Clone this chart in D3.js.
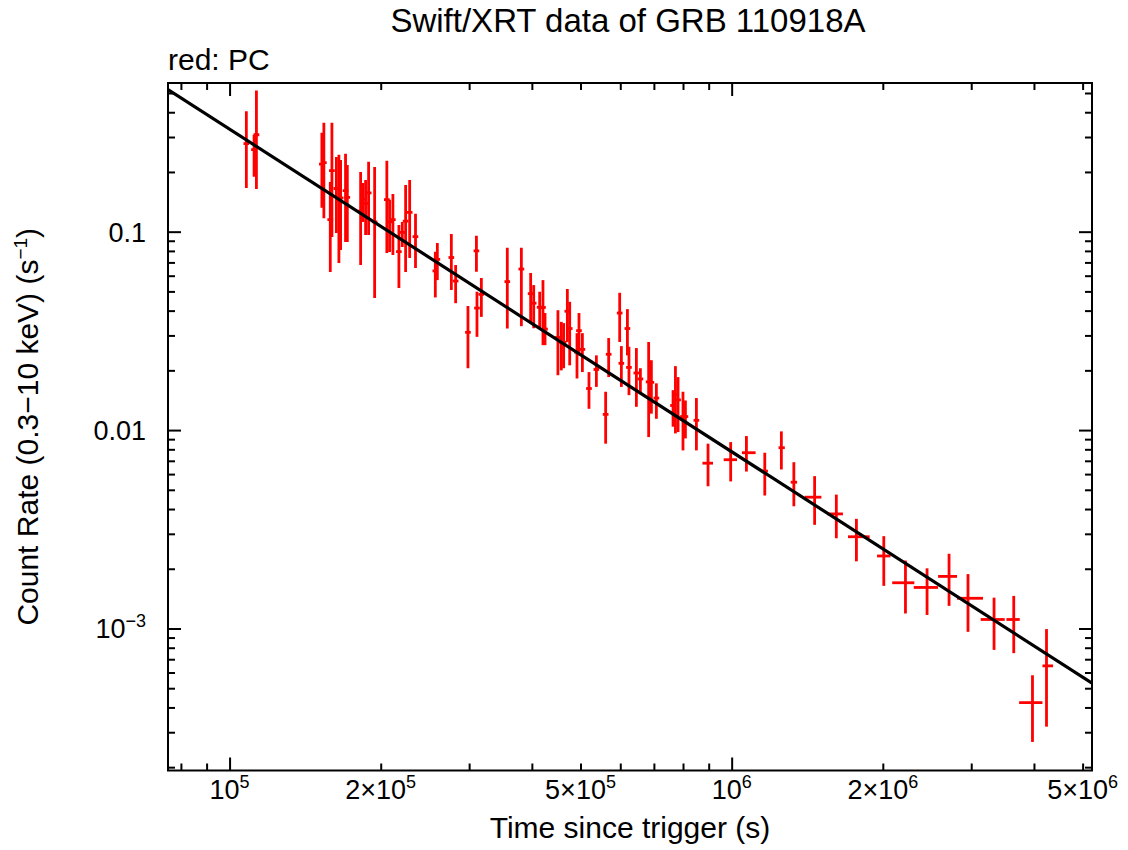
<!DOCTYPE html>
<html>
<head>
<meta charset="utf-8">
<script src="https://cdn.jsdelivr.net/npm/d3@7"></script>
<style>
  body { margin: 0; background: #fff; }
  svg { font-family: "Liberation Sans", Arial, Helvetica, sans-serif; }
</style>
</head>
<body>
<svg id="lc_svg" width="1128" height="850"></svg>
<script>
// Swift/XRT PC mode light curve of GRB 110918A
const timeSec = [
  1.080e5, 1.131e5, 1.119e5, 1.527e5, 1.541e5, 1.587e5, 1.599e5, 1.632e5, 1.651e5, 1.664e5,
  1.702e5, 1.716e5, 1.824e5, 1.843e5, 1.866e5, 1.892e5, 1.945e5, 2.057e5, 2.083e5, 2.115e5,
  2.174e5, 2.208e5, 2.242e5, 2.284e5, 2.346e5, 2.569e5, 2.593e5, 2.765e5, 2.820e5, 2.984e5,
  3.102e5, 3.110e5, 3.173e5, 3.574e5, 3.812e5, 3.978e5, 4.034e5, 4.146e5, 4.209e5, 4.249e5,
  4.508e5, 4.579e5, 4.628e5, 4.707e5, 4.758e5, 4.920e5, 4.965e5, 5.043e5, 5.198e5, 5.377e5,
  5.611e5, 5.689e5, 5.984e5, 6.030e5, 6.200e5, 6.244e5, 6.460e5, 6.580e5, 6.834e5, 6.920e5,
  7.080e5, 7.643e5, 7.727e5, 7.820e5, 7.999e5, 8.089e5, 8.507e5,
  8.973e5, 9.955e5, 1.070e6, 1.164e6, 1.256e6, 1.330e6, 1.463e6, 1.616e6, 1.772e6, 2.009e6,
  2.219e6, 2.450e6, 2.710e6, 2.956e6, 3.331e6, 3.646e6, 3.973e6, 4.237e6
];
const timeLow = [
  1.066e5, 1.116e5, 1.104e5, 1.507e5, 1.521e5, 1.566e5, 1.578e5, 1.611e5, 1.630e5, 1.642e5,
  1.680e5, 1.694e5, 1.800e5, 1.819e5, 1.842e5, 1.867e5, 1.920e5, 2.030e5, 2.056e5, 2.087e5,
  2.146e5, 2.179e5, 2.213e5, 2.254e5, 2.315e5, 2.536e5, 2.559e5, 2.729e5, 2.783e5, 2.945e5,
  3.062e5, 3.070e5, 3.132e5, 3.528e5, 3.762e5, 3.926e5, 3.982e5, 4.092e5, 4.154e5, 4.194e5,
  4.449e5, 4.519e5, 4.568e5, 4.646e5, 4.696e5, 4.856e5, 4.900e5, 4.977e5, 5.130e5, 5.307e5,
  5.538e5, 5.615e5, 5.906e5, 5.952e5, 6.119e5, 6.163e5, 6.376e5, 6.494e5, 6.745e5, 6.830e5,
  6.988e5, 7.544e5, 7.627e5, 7.718e5, 7.895e5, 7.984e5, 8.396e5,
  8.746e5, 9.641e5, 1.048e6, 1.146e6, 1.240e6, 1.311e6, 1.397e6, 1.551e6, 1.705e6, 1.948e6,
  2.088e6, 2.305e6, 2.577e6, 2.811e6, 3.133e6, 3.526e6, 3.737e6, 4.159e6
];
const timeHigh = [
  1.094e5, 1.146e5, 1.134e5, 1.547e5, 1.561e5, 1.608e5, 1.620e5, 1.653e5, 1.672e5, 1.686e5,
  1.724e5, 1.738e5, 1.848e5, 1.867e5, 1.890e5, 1.917e5, 1.970e5, 2.084e5, 2.110e5, 2.142e5,
  2.202e5, 2.237e5, 2.271e5, 2.314e5, 2.376e5, 2.602e5, 2.627e5, 2.801e5, 2.857e5, 3.023e5,
  3.142e5, 3.150e5, 3.214e5, 3.620e5, 3.862e5, 4.030e5, 4.086e5, 4.200e5, 4.264e5, 4.304e5,
  4.567e5, 4.639e5, 4.688e5, 4.768e5, 4.820e5, 4.984e5, 5.030e5, 5.109e5, 5.266e5, 5.447e5,
  5.684e5, 5.763e5, 6.062e5, 6.108e5, 6.281e5, 6.325e5, 6.544e5, 6.666e5, 6.923e5, 7.010e5,
  7.172e5, 7.742e5, 7.827e5, 7.922e5, 8.103e5, 8.194e5, 8.618e5,
  9.181e5, 1.0247e6, 1.116e6, 1.181e6, 1.276e6, 1.350e6, 1.509e6, 1.666e6, 1.883e6, 2.072e6,
  2.311e6, 2.577e6, 2.811e6, 3.167e6, 3.498e6, 3.748e6, 4.159e6, 4.367e6
];
const rate = [
  0.278, 0.308, 0.259, 0.219, 0.223, 0.115, 0.203, 0.165, 0.144, 0.148,
  0.161, 0.149, 0.127, 0.146, 0.139, 0.157, 0.112, 0.145, 0.112, 0.115,
  0.0794, 0.0991, 0.113, 0.125, 0.0944, 0.0634, 0.0725, 0.0741, 0.0564, 0.0311,
  0.0801, 0.0412, 0.0483, 0.0560, 0.0648, 0.0487, 0.0436, 0.0416, 0.0415, 0.0323,
  0.0293, 0.0277, 0.0277, 0.0397, 0.0325, 0.0247, 0.0317, 0.0255, 0.0162, 0.0202,
  0.0120, 0.0241, 0.0389, 0.0217, 0.0325, 0.0207, 0.0194, 0.0181, 0.0175, 0.0174,
  0.0145, 0.0133, 0.0151, 0.0142, 0.0117, 0.0117, 0.0112,
  0.00681, 0.00709, 0.00769, 0.00621, 0.00815, 0.00546, 0.00459, 0.00378, 0.00290, 0.00232,
  0.00170, 0.00161, 0.00183, 0.00142, 0.00111, 0.00111, 0.000423, 0.000648
];
const rateLow = [
  0.166, 0.164, 0.189, 0.132, 0.117, 0.0626, 0.094, 0.0985, 0.0695, 0.0808,
  0.0887, 0.0887, 0.0679, 0.112, 0.0962, 0.0962, 0.0463, 0.0781, 0.0790, 0.0763,
  0.0520, 0.0837, 0.0626, 0.0737, 0.0656, 0.0466, 0.0570, 0.0508, 0.0436, 0.0205,
  0.0628, 0.0295, 0.0372, 0.0325, 0.0334, 0.0351, 0.0326, 0.0325, 0.0268, 0.0268,
  0.0189, 0.0200, 0.0205, 0.0278, 0.0212, 0.0182, 0.0238, 0.0196, 0.0128, 0.0165,
  0.00854, 0.0185, 0.0278, 0.0165, 0.0238, 0.0150, 0.0131, 0.0153, 0.00922, 0.0121,
  0.0114, 0.0104, 0.00962, 0.00977, 0.0079, 0.00908, 0.0079,
  0.00521, 0.00551, 0.00618, 0.00468, 0.00633, 0.00413, 0.00333, 0.00285, 0.00218, 0.00164,
  0.00119, 0.00117, 0.00130, 0.000962, 0.00078, 0.000751, 0.000268, 0.00032
];
const rateHigh = [
  0.404, 0.515, 0.308, 0.315, 0.354, 0.178, 0.354, 0.238, 0.244, 0.230,
  0.247, 0.217, 0.200, 0.176, 0.182, 0.225, 0.212, 0.228, 0.145, 0.155,
  0.108, 0.112, 0.172, 0.182, 0.123, 0.0793, 0.0877, 0.0974, 0.0679, 0.0422,
  0.0955, 0.0498, 0.0584, 0.0830, 0.0830, 0.0619, 0.0538, 0.0498, 0.0570, 0.0389,
  0.0402, 0.0351, 0.0346, 0.0514, 0.0443, 0.0308, 0.0389, 0.0308, 0.0196, 0.0238,
  0.0156, 0.0291, 0.0492, 0.0265, 0.0407, 0.0263, 0.0259, 0.0205, 0.0278, 0.0225,
  0.0172, 0.0159, 0.0210, 0.0185, 0.0156, 0.0141, 0.0145,
  0.00854, 0.0087, 0.00933, 0.00769, 0.00985, 0.00689, 0.00586, 0.00473, 0.00357, 0.00292,
  0.00220, 0.00201, 0.00238, 0.00188, 0.00143, 0.00146, 0.000581, 0.000993
];

// power-law decay model, ends of the black line at the frame edges
const fitTime = [7.54e4, 5.22e6];
const fitRate = [0.520, 5.30e-4];

// axis ticks and their labels
const xDomain = [7.54e4, 5.22e6];
const yDomain = [1.924e-4, 0.5615];
const xMajorTicks = [1e5, 1e6];
const xMinorTicks = [8e4, 9e4, 2e5, 3e5, 4e5, 5e5, 6e5, 7e5, 8e5, 9e5, 2e6, 3e6, 4e6, 5e6];
const xLabelValues = [1e5, 2e5, 5e5, 1e6, 2e6, 5e6];
const xLabelBase = ['10', '2×10', '5×10', '10', '2×10', '5×10'];
const xLabelSup = ['5', '5', '5', '6', '6', '6'];
const yMajorTicks = [1e-3, 1e-2, 1e-1];
const yMinorTicks = [2e-4, 3e-4, 4e-4, 5e-4, 6e-4, 7e-4, 8e-4, 9e-4,
  2e-3, 3e-3, 4e-3, 5e-3, 6e-3, 7e-3, 8e-3, 9e-3,
  2e-2, 3e-2, 4e-2, 5e-2, 6e-2, 7e-2, 8e-2, 9e-2, 0.2, 0.3, 0.4, 0.5];
const yLabelValues = [1e-3, 1e-2, 1e-1];
const yLabelBase = ['10', '0.01', '0.1'];
const yLabelSup = ['\u22123', '', ''];

const data = timeSec.map((t, i) => ({
  t: t, tLo: timeLow[i], tHi: timeHigh[i],
  r: rate[i], rLo: rateLow[i], rHi: rateHigh[i]
}));

const margin = { top: 83, right: 36, bottom: 79.5, left: 168 };
const svg = d3.select('#lc_svg');
const width = +svg.attr('width');
const height = +svg.attr('height');
const innerW = width - margin.left - margin.right;
const innerH = height - margin.top - margin.bottom;

svg.append('rect').attr('width', width).attr('height', height).attr('fill', '#fff');

const xScale = d3.scaleLog().domain(xDomain).range([0, innerW]);
const yScale = d3.scaleLog().domain(yDomain).range([innerH, 0]);

const g = svg.append('g').attr('transform', `translate(${margin.left},${margin.top})`);

svg.append('clipPath').attr('id', 'plot_clip')
  .append('rect').attr('x', margin.left).attr('y', margin.top)
  .attr('width', innerW).attr('height', innerH);

/**
 * Ticks on all four sides, pointing inwards
 */
function tickAxis(axisFn, values, size, transform) {
  const ax = axisFn.tickValues(values).tickSize(-size).tickFormat('');
  g.append('g')
    .attr('transform', transform)
    .call(ax)
    .call(s => s.select('.domain').remove())
    .call(s => s.selectAll('.tick line').attr('stroke', '#000').attr('stroke-width', 2));
}
tickAxis(d3.axisBottom(xScale), xMinorTicks, 7, `translate(0,${innerH})`);
tickAxis(d3.axisBottom(xScale), xMajorTicks, 13, `translate(0,${innerH})`);
tickAxis(d3.axisTop(xScale), xMinorTicks, 7, 'translate(0,0)');
tickAxis(d3.axisTop(xScale), xMajorTicks, 13, 'translate(0,0)');
tickAxis(d3.axisLeft(yScale), yMinorTicks, 7, 'translate(0,0)');
tickAxis(d3.axisLeft(yScale), yMajorTicks, 13, 'translate(0,0)');
tickAxis(d3.axisRight(yScale), yMinorTicks, 7, `translate(${innerW},0)`);
tickAxis(d3.axisRight(yScale), yMajorTicks, 13, `translate(${innerW},0)`);

/**
 * Error bars
 */
const plot = svg.append('g')
  .attr('clip-path', 'url(#plot_clip)')
  .append('g')
  .attr('transform', `translate(${margin.left},${margin.top})`);

const bars = plot.selectAll('.err').data(data).enter().append('g').attr('class', 'err');
bars.append('line')
  .attr('x1', d => xScale(d.t)).attr('x2', d => xScale(d.t))
  .attr('y1', d => yScale(d.rHi)).attr('y2', d => yScale(d.rLo))
  .attr('stroke', '#ff0000').attr('stroke-width', 2.8);
bars.append('line')
  .attr('x1', d => xScale(d.tLo)).attr('x2', d => xScale(d.tHi))
  .attr('y1', d => yScale(d.r)).attr('y2', d => yScale(d.r))
  .attr('stroke', '#ff0000').attr('stroke-width', 2.8);

/**
 * Model line
 */
const line = d3.line().x(d => xScale(d[0])).y(d => yScale(d[1]));
plot.append('path')
  .datum(fitTime.map((t, i) => [t, fitRate[i]]))
  .attr('d', line)
  .attr('fill', 'none')
  .attr('stroke', '#000')
  .attr('stroke-width', 3.2);

// frame
g.append('rect')
  .attr('width', innerW).attr('height', innerH)
  .attr('fill', 'none').attr('stroke', '#000').attr('stroke-width', 2);

/**
 * Tick labels with superscripts
 */
const xLab = g.selectAll('.x_label_tick').data(xLabelValues).enter().append('text')
  .attr('class', 'x_label_tick')
  .attr('x', d => xScale(d))
  .attr('y', innerH + 28)
  .attr('text-anchor', 'middle')
  .attr('font-size', 27);
xLab.append('tspan').text((d, i) => xLabelBase[i]);
xLab.append('tspan').attr('dy', -11).attr('font-size', 18).text((d, i) => xLabelSup[i]);

const yLab = g.selectAll('.y_label_tick').data(yLabelValues).enter().append('text')
  .attr('class', 'y_label_tick')
  .attr('x', -22)
  .attr('y', d => yScale(d) + 10)
  .attr('text-anchor', 'end')
  .attr('font-size', 27);
yLab.append('tspan').text((d, i) => yLabelBase[i]);
yLab.filter((d, i) => yLabelSup[i] !== '')
  .append('tspan').attr('dy', -11).attr('font-size', 18).text((d, i) => yLabelSup[yLabelValues.indexOf(d)]);

// titles
svg.append('text')
  .attr('x', margin.left + innerW / 2 - 2)
  .attr('y', 32)
  .attr('text-anchor', 'middle')
  .attr('font-size', 33)
  .text('Swift/XRT data of GRB 110918A');

svg.append('text')
  .attr('x', margin.left)
  .attr('y', 70)
  .attr('font-size', 30)
  .text('red: PC');

svg.append('text')
  .attr('x', margin.left + innerW / 2)
  .attr('y', 838)
  .attr('text-anchor', 'middle')
  .attr('font-size', 30)
  .text('Time since trigger (s)');

const yTitle = svg.append('text')
  .attr('transform', `translate(38,${margin.top + innerH / 2}) rotate(-90)`)
  .attr('text-anchor', 'middle')
  .attr('font-size', 30);
yTitle.append('tspan').text('Count Rate (0.3\u221210 keV) (s');
yTitle.append('tspan').attr('dy', -11).attr('font-size', 19).text('\u22121');
yTitle.append('tspan').attr('dy', 11).text(')');
</script>
</body>
</html>
